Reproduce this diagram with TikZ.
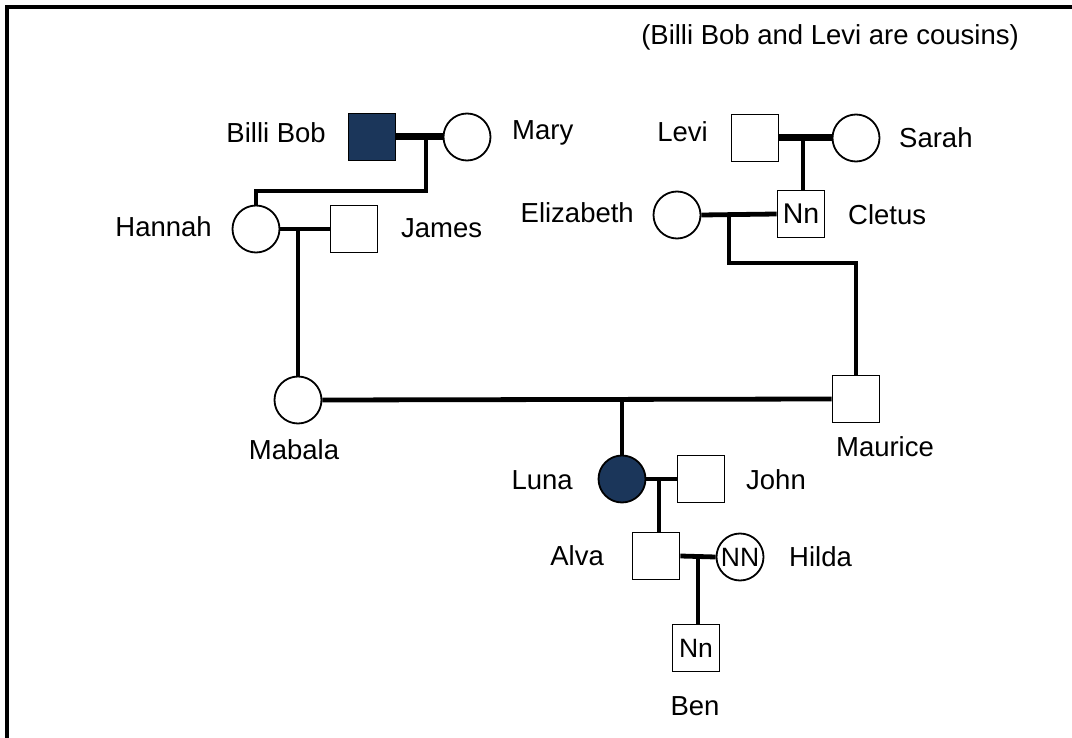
\documentclass[tikz,border=0pt]{standalone}
\usepackage{fontspec}
\setmainfont{Liberation Sans}
\definecolor{navy}{RGB}{27,54,90}
\begin{document}
\begin{tikzpicture}[x=1pt,y=-1pt,
  male/.style={draw, line width=1.8pt, rectangle, minimum size=47pt, inner sep=0pt, font=\fontsize{26.5}{30}\selectfont},
  female/.style={draw, line width=1.8pt, circle, minimum size=47pt, inner sep=0pt, font=\fontsize{26.5}{30}\selectfont},
  aff/.style={fill=navy},
  lbl/.style={inner sep=0pt, font=\fontsize{27.5}{32}\selectfont},
  rel/.style={line width=4.8pt},
  mar/.style={line width=7pt},
  frame/.style={line width=4pt}]
\useasboundingbox (0,0) rectangle (1072,738);
\fill[white] (0,0) rectangle (1072,738);
\coordinate (f1) at (7,740);
\coordinate (f2) at (7,7);
\coordinate (f3) at (1074,7);
\draw[frame] (f1) -- (f2) -- (f3);

% people
\node[male,aff] (bb) at (372,137) {};
\node[female] (mary) at (467,137) {};
\node[female] (hannah) at (256,229) {};
\node[male] (james) at (354,229) {};
\node[male] (levi) at (755,138) {};
\node[female] (sarah) at (856,138) {};
\node[female] (eliz) at (677,215) {};
\node[male, font=\fontsize{28.5}{32}\selectfont] (cletus) at (801,214) {Nn};
\node[female] (mabala) at (298,400) {};
\node[male] (maurice) at (856,399) {};
\node[female,aff] (luna) at (622,479) {};
\node[male] (john) at (701,479) {};
\node[male] (alva) at (656,556) {};
\node[female] (hilda) at (740,557) {NN};
\node[male] (ben) at (696,648) {Nn};

% junctions
\coordinate (bm) at (426,137);
\coordinate (bmL) at (426,191);
\coordinate (hj) at (298,229);
\coordinate (ls) at (803,138);
\coordinate (ec) at (729,214);
\coordinate (ecL) at (729,263);
\coordinate (mm) at (622,400);
\coordinate (lj) at (659,479);
\coordinate (ah) at (698,557);

% connectors
\draw[mar] (bb.east) -- (mary.west);
\draw[rel] (bm) -- (bmL) -| (hannah.north);
\draw[rel] (hannah.east) -- (james.west);
\draw[rel] (hj) -- (mabala.north);
\draw[mar] (levi.east) -- (sarah.west);
\draw[rel] (ls) -- (ls |- cletus.north);
\draw[rel] (eliz.east) -- (cletus.west);
\draw[rel] (ec) -- (ecL) -| (maurice.north);
\draw[rel] (mabala.east) -- (maurice.west);
\draw[rel] (mm) -- (luna.north);
\draw[rel] (luna.east) -- (john.west);
\draw[rel] (lj) -- (lj |- alva.north);
\draw[rel] (alva.east) -- (hilda.west);
\draw[rel] (ah) -- (ah |- ben.north);

% labels
\node[lbl, anchor=east] (lbb) at (326,133) {Billi Bob};
\node[lbl, anchor=west] (lmary) at (512,133) {Mary};
\node[lbl, anchor=east] (lhannah) at (212,227) {Hannah};
\node[lbl, anchor=west] (ljames) at (401,228) {James};
\node[lbl, anchor=east] (llevi) at (708,132) {Levi};
\node[lbl, anchor=west] (lsarah) at (899,138) {Sarah};
\node[lbl, anchor=east] (leliz) at (634,213) {Elizabeth};
\node[lbl, anchor=west] (lcletus) at (848,215) {Cletus};
\node[lbl] (lmabala) at (294,450) {Mabala};
\node[lbl] (lmaurice) at (885,447) {Maurice};
\node[lbl, anchor=east] (lluna) at (573,480) {Luna};
\node[lbl, anchor=west] (ljohn) at (746,480) {John};
\node[lbl, anchor=east] (lalva) at (604,556) {Alva};
\node[lbl, anchor=west] (lhilda) at (789,557) {Hilda};
\node[lbl] (lben) at (695,706) {Ben};
\node[lbl, anchor=east] (note) at (1019,37) {(Billi Bob and Levi are cousins)};
\end{tikzpicture}
\end{document}
